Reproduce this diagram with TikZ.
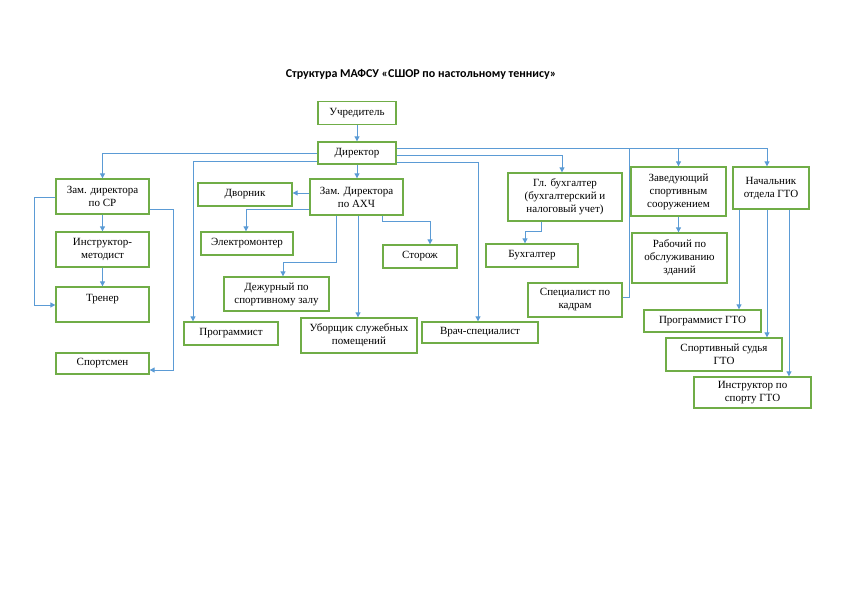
\documentclass[tikz,border=0pt]{standalone}
\usepackage{fontspec}
\setmainfont{Liberation Serif}
\newfontfamily\headfont{Carlito}
\usetikzlibrary{arrows.meta}

\definecolor{boxgreen}{RGB}{112,173,71}
\definecolor{linkblue}{RGB}{91,155,213}

\tikzset{every picture/.style={line width=0.75pt}}
\tikzset{
  post/.style={draw=boxgreen, line width=1.3pt, inner sep=0pt, align=center,
    font=\fontsize{11}{13}\selectfont},
  link/.style={draw=linkblue, line width=0.9pt},
  arr/.style={link, -{Triangle[length=5pt,width=5pt]}}
}

\begin{document}
\begin{tikzpicture}[x=1pt,y=1pt,yscale=-1,xscale=1]
	\useasboundingbox (0,0) rectangle (843,596);

	% Title
	\node (title) at (421,74) {\headfont\bfseries\fontsize{12}{14}\selectfont Структура МАФСУ «СШОР по настольному теннису»};

	% Top
	\node [post, minimum width=78pt, minimum height=23pt] (uchr) at (357,113) {Учредитель};
	\node [post, minimum width=78pt, minimum height=22pt] (dir) at (357,153) {Директор};

	% Left column
	\node [post, minimum width=93pt, minimum height=35pt] (zsr) at (102.5,196.5) {Зам. директора\\по СР};
	\node [post, minimum width=93pt, minimum height=35pt] (instr) at (102.5,249.5) {Инструктор-\\методист};
	\node [post, minimum width=93pt, minimum height=35pt] (trener) at (102.5,304.5) {Тренер\\[1pt]~};
	\node [post, minimum width=93pt, minimum height=21pt] (sport) at (102.5,363.5) {Спортсмен};

	% AHCh group
	\node [post, minimum width=93pt, minimum height=36pt] (axch) at (356.5,197) {Зам. Директора\\по АХЧ};
	\node [post, minimum width=94pt, minimum height=23pt] (dvor) at (245,194.5) {Дворник};
	\node [post, minimum width=92pt, minimum height=23pt] (elek) at (247,243.5) {Электромонтер};
	\node [post, minimum width=105pt, minimum height=34pt] (dezh) at (276.5,294) {Дежурный по\\спортивному залу};
	\node [post, minimum width=116pt, minimum height=35pt] (uborsh) at (359,335.5) {Уборщик служебных\\помещений};
	\node [post, minimum width=74pt, minimum height=23pt] (storozh) at (420,256.5) {Сторож};
	\node [post, minimum width=94pt, minimum height=23pt] (prog) at (231,333.5) {Программист};
	\node [post, minimum width=116pt, minimum height=21pt] (vrach) at (480,332.5) {Врач-специалист};

	% Accounting
	\node [post, minimum width=114pt, minimum height=48pt] (glb) at (565,197) {Гл. бухгалтер\\(бухгалтерский и\\налоговый учет)};
	\node [post, minimum width=92pt, minimum height=23pt] (buh) at (532,255.5) {Бухгалтер};
	\node [post, minimum width=94pt, minimum height=34pt] (spec) at (575,300) {Специалист по\\кадрам};

	% Sport facility
	\node [post, minimum width=95pt, minimum height=49pt] (zav) at (678.5,191.5) {Заведующий\\спортивным\\сооружением};
	\node [post, minimum width=95pt, minimum height=50pt] (rab) at (679.5,258) {Рабочий по\\обслуживанию\\зданий};

	% GTO
	\node [post, minimum width=76pt, minimum height=42pt] (nach) at (771,188) {Начальник\\отдела ГТО};
	\node [post, minimum width=117pt, minimum height=22pt] (proggto) at (702.5,321) {Программист ГТО};
	\node [post, minimum width=116pt, minimum height=33pt] (sudya) at (724,354.5) {Спортивный судья\\ГТО};
	\node [post, minimum width=117pt, minimum height=31pt] (instrgto) at (752.5,392.5) {Инструктор по\\спорту ГТО};

	\coordinate (jspec) at (629,148);

	% Director links
	\draw [arr] (uchr) -- (dir);
	\draw [arr] (dir.south) -- (axch.north -| dir.south);
	\draw [arr] (dir.west |- 0,153) -| (zsr.north);
	\draw [arr] (dir.west |- 0,161) -| (prog.north -| 193,0);
	\draw [arr] (dir.east |- 0,148) -| (nach.north -| 767,0);
	\draw [arr] (zav.north |- 0,148) -- (zav.north);
	\draw [arr] (dir.east |- 0,155) -| (glb.north -| 562,0);
	\draw [arr] (dir.east |- 0,162) -| (vrach.north -| 478,0);
	\draw [link] (spec.east |- 0,297) -| (jspec);

	% SR links
	\draw [arr] (zsr) -- (instr);
	\draw [arr] (instr) -- (trener);
	\draw [arr] (zsr.west |- 0,197) -- (34,197) |- (trener.west |- 0,305);
	\draw [arr] (zsr.east |- 0,209) -- (173,209) |- (sport.east |- 0,370);

	% AHCh links
	\draw [arr] (axch.west |- 0,193) -- (dvor.east |- 0,193);
	\draw [arr] (axch.west |- 0,209) -| (elek.north -| 246,0);
	\draw [arr] (axch.south -| 336,0) -- (336,262) -| (dezh.north -| 283,0);
	\draw [arr] (axch.south -| 358,0) -- (uborsh.north -| 358,0);
	\draw [arr] (axch.south -| 382,0) -- (382,221) -| (storozh.north -| 430,0);

	% other links
	\draw [arr] (glb.south -| 541,0) -- (541,231) -| (buh.north -| 525,0);
	\draw [arr] (zav.south) -- (rab.north -| zav.south);
	\draw [arr] (nach.south -| 739,0) -- (proggto.north -| 739,0);
	\draw [arr] (nach.south -| 767,0) -- (sudya.north -| 767,0);
	\draw [arr] (nach.south -| 789,0) -- (instrgto.north -| 789,0);

\end{tikzpicture}
\end{document}
